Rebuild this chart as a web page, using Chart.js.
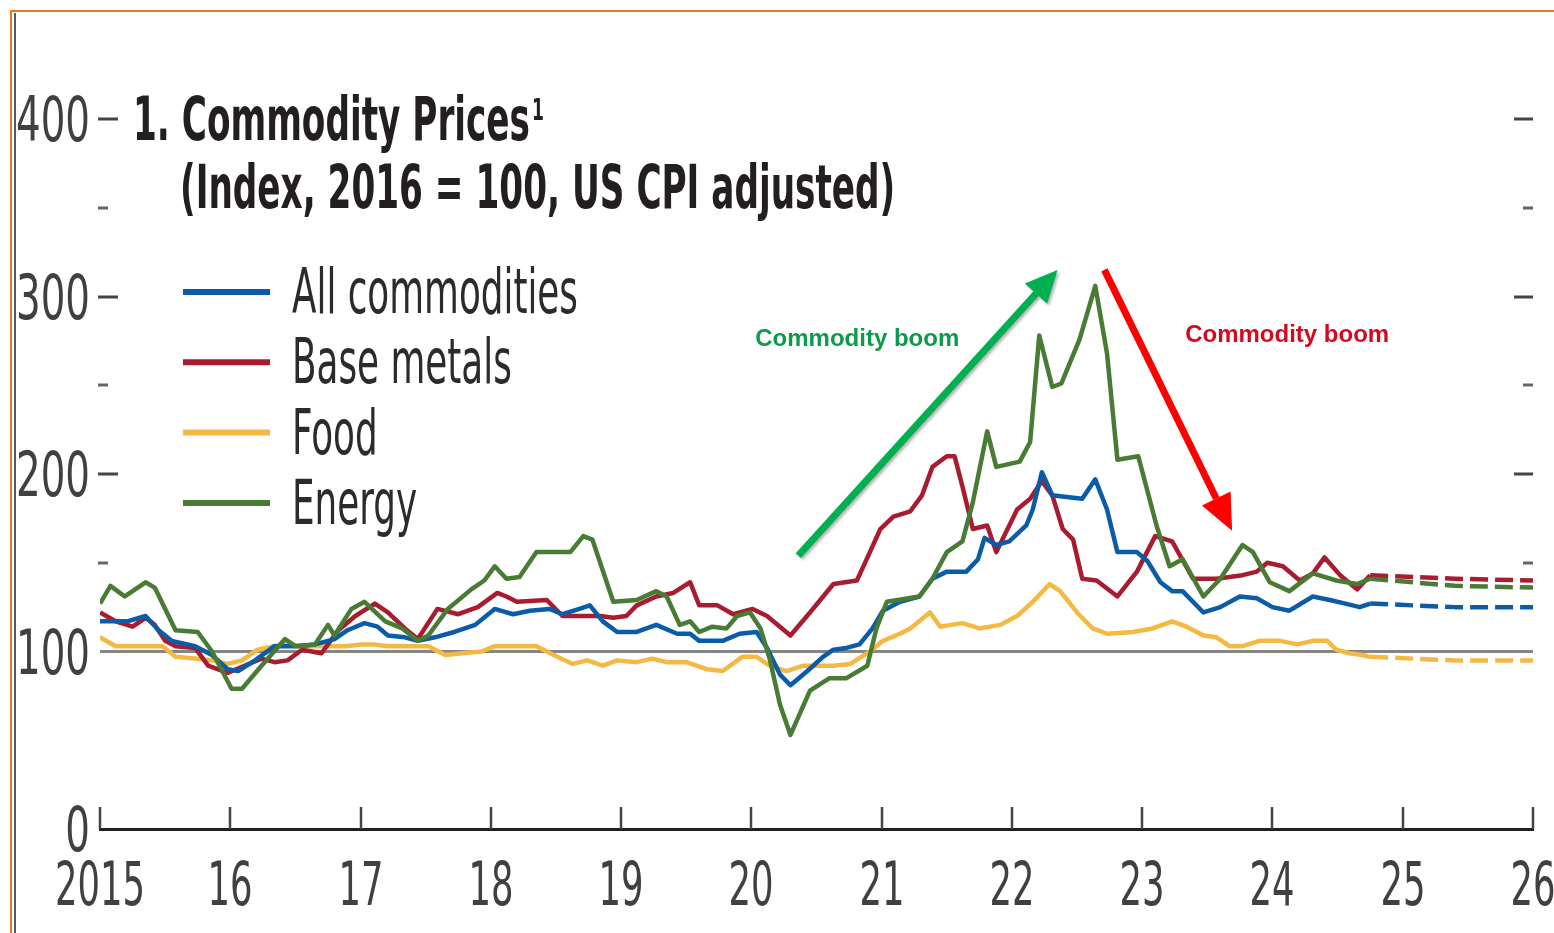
<!DOCTYPE html>
<html>
<head>
<meta charset="utf-8">
<title>Commodity Prices</title>
<script src="https://cdn.jsdelivr.net/npm/chart.js@4.4.1/dist/chart.umd.min.js"></script>
<style>
  html, body { margin: 0; padding: 0; background: #fff; }
  #wrap { width: 1554px; height: 933px; }
</style>
</head>
<body>
<div id="wrap"><canvas id="chart" width="1554" height="933"></canvas></div>
<script>
// Commodity prices, index 2016 = 100, US CPI adjusted
const yearTicks = [2015, 2016, 2017, 2018, 2019, 2020, 2021, 2022, 2023, 2024, 2025, 2026];
const yearLabels = ['2015', '16', '17', '18', '19', '20', '21', '22', '23', '24', '25', '26'];
const valueLabels = [0, 100, 200, 300, 400];
const seriesNames = ['All commodities', 'Base metals', 'Food', 'Energy'];
const seriesColors = ['#0a5ca8', '#a81c30', '#f4b942', '#487b34'];
const projectionStart = 2024.75; // dashed from here on

const allYears = [2015.00, 2015.12, 2015.21, 2015.35, 2015.45, 2015.55, 2015.73, 2015.86, 2015.98, 2016.06,
  2016.19, 2016.34, 2016.50, 2016.65, 2016.80, 2016.90, 2017.03, 2017.13, 2017.21, 2017.34,
  2017.44, 2017.57, 2017.72, 2017.88, 2018.03, 2018.17, 2018.30, 2018.45, 2018.55, 2018.68,
  2018.76, 2018.86, 2018.97, 2019.12, 2019.27, 2019.43, 2019.53, 2019.60, 2019.78, 2019.91,
  2020.04, 2020.12, 2020.22, 2020.30, 2020.43, 2020.55, 2020.63, 2020.73, 2020.83, 2020.93,
  2021.01, 2021.14, 2021.29, 2021.39, 2021.50, 2021.65, 2021.74, 2021.79, 2021.88, 2021.98,
  2022.11, 2022.16, 2022.23, 2022.31, 2022.42, 2022.54, 2022.64, 2022.73, 2022.81, 2022.96,
  2023.04, 2023.14, 2023.23, 2023.31, 2023.47, 2023.60, 2023.75, 2023.88, 2024.00, 2024.13,
  2024.31, 2024.44, 2024.56, 2024.67, 2024.75, 2025.40, 2026.00];
const allValues = [117, 117, 117, 120, 112, 106, 103, 98, 90, 89,
  95, 103, 103, 104, 107, 112, 116, 114, 109, 108,
  106, 108, 111, 115, 124, 121, 123, 124, 121, 124,
  126, 117, 111, 111, 115, 110, 110, 106, 106, 110,
  111, 102, 87, 81, 89, 97, 101, 102, 104, 113,
  123, 128, 131, 141, 145, 145, 152, 164, 160, 162,
  171, 180, 201, 188, 187, 186, 197, 180, 156, 156,
  151, 139, 134, 134, 122, 125, 131, 130, 125, 123,
  131, 129, 127, 125, 127, 125, 125];

const metalYears = [2015.00, 2015.12, 2015.25, 2015.35, 2015.42, 2015.50, 2015.58, 2015.73, 2015.83, 2015.98,
  2016.11, 2016.24, 2016.34, 2016.44, 2016.55, 2016.70, 2016.83, 2016.96, 2017.11, 2017.21,
  2017.34, 2017.44, 2017.59, 2017.75, 2017.90, 2018.05, 2018.12, 2018.20, 2018.43, 2018.55,
  2018.71, 2018.84, 2018.94, 2019.04, 2019.12, 2019.27, 2019.40, 2019.53, 2019.60, 2019.74,
  2019.86, 2020.01, 2020.12, 2020.30, 2020.45, 2020.63, 2020.81, 2020.91, 2020.99, 2021.09,
  2021.22, 2021.31, 2021.39, 2021.50, 2021.56, 2021.62, 2021.70, 2021.81, 2021.88, 2022.04,
  2022.14, 2022.23, 2022.31, 2022.39, 2022.47, 2022.54, 2022.65, 2022.81, 2022.96, 2023.10,
  2023.23, 2023.39, 2023.57, 2023.77, 2023.88, 2023.96, 2024.08, 2024.21, 2024.31, 2024.40,
  2024.52, 2024.65, 2024.75, 2025.40, 2026.00];
const metalValues = [122, 117, 114, 119, 115, 106, 103, 102, 92, 88,
  92, 96, 94, 95, 101, 99, 112, 120, 127, 122,
  113, 107, 124, 121, 125, 133, 131, 128, 129, 120,
  120, 120, 119, 120, 126, 131, 133, 139, 126, 126,
  121, 124, 120, 109, 122, 138, 140, 156, 169, 176,
  179, 188, 204, 210, 210, 193, 169, 171, 156, 180,
  186, 196, 188, 169, 163, 141, 140, 131, 145, 165,
  162, 141, 141, 143, 145, 150, 148, 140, 144, 153,
  143, 135, 143, 141, 140];

const foodYears = [2015.00, 2015.12, 2015.27, 2015.48, 2015.58, 2015.73, 2015.86, 2015.98, 2016.09, 2016.21,
  2016.40, 2016.55, 2016.70, 2016.88, 2017.01, 2017.11, 2017.21, 2017.52, 2017.65, 2017.78,
  2017.93, 2018.03, 2018.35, 2018.51, 2018.63, 2018.74, 2018.86, 2018.97, 2019.12, 2019.24,
  2019.35, 2019.50, 2019.66, 2019.78, 2019.93, 2020.04, 2020.14, 2020.27, 2020.40, 2020.63,
  2020.76, 2020.91, 2021.01, 2021.14, 2021.22, 2021.37, 2021.45, 2021.62, 2021.75, 2021.91,
  2022.04, 2022.16, 2022.29, 2022.37, 2022.50, 2022.62, 2022.73, 2022.93, 2023.08, 2023.23,
  2023.34, 2023.47, 2023.57, 2023.67, 2023.77, 2023.90, 2024.06, 2024.19, 2024.31, 2024.42,
  2024.49, 2024.59, 2024.69, 2024.75, 2025.40, 2026.00];
const foodValues = [108, 103, 103, 103, 97, 96, 95, 93, 95, 101,
  104, 103, 103, 103, 104, 104, 103, 103, 98, 99,
  100, 103, 103, 97, 93, 95, 92, 95, 94, 96,
  94, 94, 90, 89, 97, 97, 92, 89, 92, 92,
  93, 100, 106, 110, 113, 122, 114, 116, 113, 115,
  120, 128, 138, 134, 122, 113, 110, 111, 113, 117,
  114, 109, 108, 103, 103, 106, 106, 104, 106, 106,
  101, 99, 98, 97, 95, 95];

const energyYears = [2015.00, 2015.08, 2015.19, 2015.35, 2015.42, 2015.58, 2015.75, 2015.86, 2016.01, 2016.09,
  2016.24, 2016.42, 2016.50, 2016.65, 2016.75, 2016.80, 2016.93, 2017.03, 2017.19, 2017.32,
  2017.44, 2017.52, 2017.67, 2017.85, 2017.95, 2018.03, 2018.12, 2018.22, 2018.35, 2018.61,
  2018.71, 2018.78, 2018.94, 2019.12, 2019.27, 2019.35, 2019.45, 2019.53, 2019.60, 2019.70,
  2019.81, 2019.89, 2019.99, 2020.07, 2020.14, 2020.22, 2020.30, 2020.45, 2020.60, 2020.73,
  2020.89, 2020.96, 2021.04, 2021.29, 2021.39, 2021.50, 2021.62, 2021.70, 2021.81, 2021.88,
  2022.06, 2022.14, 2022.21, 2022.31, 2022.38, 2022.52, 2022.64, 2022.73, 2022.81, 2022.97,
  2023.11, 2023.21, 2023.31, 2023.47, 2023.60, 2023.77, 2023.85, 2023.98, 2024.13, 2024.31,
  2024.49, 2024.65, 2024.75, 2025.40, 2026.00];
const energyValues = [127, 137, 131, 139, 136, 112, 111, 100, 79, 79,
  92, 107, 103, 104, 115, 109, 124, 128, 117, 113,
  106, 109, 124, 135, 140, 148, 141, 142, 156, 156,
  165, 163, 128, 129, 134, 131, 115, 117, 111, 114,
  113, 120, 122, 113, 96, 70, 53, 78, 85, 85,
  92, 113, 128, 131, 141, 156, 162, 184, 224, 204,
  207, 218, 278, 249, 251, 276, 306, 268, 208, 210,
  171, 148, 152, 131, 141, 160, 156, 139, 134, 144,
  140, 138, 141, 137, 136];

// annotations, in data units: [x, y]
const upArrow = [[2020.36, 154], [2022.35, 315]];
const downArrow = [[2022.71, 315], [2023.69, 168]];
const noteUp = { text: 'Commodity boom', x: 2020.03, y: 276, color: '#0c9a4c' };
const noteDown = { text: 'Commodity boom', x: 2023.33, y: 278, color: '#d4091f' };

const NARROW = "'Liberation Sans Narrow', 'DejaVu Sans Condensed', 'Arial Narrow', sans-serif";
const ARIAL = "'Liberation Sans', Arial, sans-serif";

function toPoints(xs, ys) {
  return xs.map((x, i) => ({ x: x, y: ys[i] }));
}

const seriesData = [
  toPoints(allYears, allValues),
  toPoints(metalYears, metalValues),
  toPoints(foodYears, foodValues),
  toPoints(energyYears, energyValues)
];
const drawOrder = [1, 2, 3, 0]; // energy on top

const datasets = seriesNames.map((name, i) => ({
  label: name,
  data: seriesData[i],
  borderColor: seriesColors[i],
  borderWidth: 4.5,
  borderJoinStyle: 'round',
  pointRadius: 0,
  tension: 0,
  fill: false,
  order: drawOrder[i],
  segment: {
    borderDash: ctx => ctx.p0.parsed.x >= projectionStart - 0.001 ? [18, 7] : undefined
  }
}));

// the print font is very condensed, so text gets squeezed sideways
function squeezeText(ctx, text, x, y, sx) {
  ctx.save();
  ctx.translate(x, y);
  ctx.scale(sx, 1);
  ctx.fillText(text, 0, 0);
  ctx.restore();
}

function drawArrow(ctx, x0, y0, x1, y1, color, headLen, headHalf, width) {
  const ang = Math.atan2(y1 - y0, x1 - x0);
  const bx = x1 - Math.cos(ang) * headLen;
  const by = y1 - Math.sin(ang) * headLen;
  ctx.strokeStyle = color;
  ctx.fillStyle = color;
  ctx.lineWidth = width;
  ctx.lineCap = 'butt';
  ctx.beginPath();
  ctx.moveTo(x0, y0);
  ctx.lineTo(bx, by);
  ctx.stroke();
  ctx.beginPath();
  ctx.moveTo(x1, y1);
  ctx.lineTo(bx + Math.sin(ang) * headHalf, by - Math.cos(ang) * headHalf);
  ctx.lineTo(bx - Math.sin(ang) * headHalf, by + Math.cos(ang) * headHalf);
  ctx.closePath();
  ctx.fill();
}

const decor = {
  id: 'decor',
  beforeDraw(chart) {
    const ctx = chart.ctx;
    ctx.save();
    ctx.fillStyle = '#fff';
    ctx.fillRect(0, 0, chart.width, chart.height);
    ctx.restore();
  },
  afterDraw(chart) {
    const ctx = chart.ctx;
    const area = chart.chartArea;
    const xs = chart.scales.x;
    const ys = chart.scales.y;
    ctx.save();

    // frame
    ctx.strokeStyle = '#e8791f';
    ctx.lineWidth = 2;
    ctx.beginPath();
    ctx.moveTo(11, 933);
    ctx.lineTo(11, 11);
    ctx.lineTo(1554, 11);
    ctx.stroke();
    ctx.strokeStyle = '#5a5a5a';
    ctx.beginPath();
    ctx.moveTo(15, 13);
    ctx.lineTo(15, 933);
    ctx.stroke();

    // year ticks pointing up from the axis, labels below
    ctx.strokeStyle = '#444';
    ctx.lineWidth = 2.5;
    ctx.font = '60px ' + NARROW;
    ctx.fillStyle = '#404040';
    ctx.textBaseline = 'alphabetic';
    const xsx = 90 / ctx.measureText(yearLabels[0]).width;
    xs.ticks.forEach(t => {
      const x = Math.round(xs.getPixelForValue(t.value));
      ctx.beginPath();
      ctx.moveTo(x, area.bottom);
      ctx.lineTo(x, area.bottom - 22);
      ctx.stroke();
      const label = yearLabels[yearTicks.indexOf(t.value)];
      const w = ctx.measureText(label).width * xsx;
      squeezeText(ctx, label, x - w / 2, 905, xsx);
    });

    // value ticks on both sides, labels on the left
    ctx.lineWidth = 3;
    ctx.font = '62px ' + NARROW;
    const ysx = 74 / ctx.measureText('400').width;
    ys.ticks.forEach(t => {
      const y = Math.round(ys.getPixelForValue(t.value));
      if (valueLabels.includes(t.value)) {
        const label = String(t.value);
        const w = ctx.measureText(label).width * ysx;
        ctx.fillStyle = '#404040';
        squeezeText(ctx, label, 90 - w, y + 22, ysx);
      }
      if (t.value <= 100) return;
      const major = t.value % 100 === 0;
      ctx.strokeStyle = major ? '#444' : '#666';
      ctx.beginPath();
      ctx.moveTo(area.left - 2, y);
      ctx.lineTo(area.left + (major ? 18 : 8), y);
      ctx.moveTo(area.right - (major ? 19 : 10), y);
      ctx.lineTo(area.right, y);
      ctx.stroke();
    });

    // title
    ctx.fillStyle = '#231f20';
    ctx.font = 'bold 60px ' + NARROW;
    const t1 = '1. Commodity Prices';
    const sx = 397 / ctx.measureText(t1).width;
    squeezeText(ctx, t1, 133, 140, sx);
    squeezeText(ctx, '(Index, 2016 = 100, US CPI adjusted)', 180, 208, sx);
    ctx.font = 'bold 30px ' + NARROW;
    squeezeText(ctx, '1', 532, 120, sx);

    // legend
    ctx.font = '62px ' + NARROW;
    const lsx = 286 / ctx.measureText(seriesNames[0]).width;
    chart.data.datasets.forEach((ds, i) => {
      const y = 292 + i * 70.3;
      ctx.strokeStyle = ds.borderColor;
      ctx.lineWidth = 6;
      ctx.beginPath();
      ctx.moveTo(183, y);
      ctx.lineTo(270, y);
      ctx.stroke();
      ctx.fillStyle = '#2b2b2b';
      squeezeText(ctx, ds.label, 292, y + 21, lsx);
    });

    // boom / bust arrows
    ctx.save();
    ctx.shadowColor = 'rgba(0,0,0,0.3)';
    ctx.shadowBlur = 3;
    ctx.shadowOffsetX = 2;
    ctx.shadowOffsetY = 2;
    drawArrow(ctx, xs.getPixelForValue(upArrow[0][0]), ys.getPixelForValue(upArrow[0][1]),
      xs.getPixelForValue(upArrow[1][0]), ys.getPixelForValue(upArrow[1][1]), '#00b050', 32, 15, 7);
    ctx.restore();
    drawArrow(ctx, xs.getPixelForValue(downArrow[0][0]), ys.getPixelForValue(downArrow[0][1]),
      xs.getPixelForValue(downArrow[1][0]), ys.getPixelForValue(downArrow[1][1]), '#ff0000', 36, 16, 7);

    ctx.font = 'bold 24px ' + ARIAL;
    ctx.textBaseline = 'middle';
    [noteUp, noteDown].forEach(n => {
      ctx.fillStyle = n.color;
      ctx.fillText(n.text, xs.getPixelForValue(n.x), ys.getPixelForValue(n.y));
    });

    ctx.restore();
  }
};

new Chart(document.getElementById('chart'), {
  type: 'line',
  data: { datasets: datasets },
  options: {
    responsive: false,
    animation: false,
    devicePixelRatio: 1,
    layout: { padding: { top: 119, right: 21, bottom: 0, left: 0 } },
    plugins: {
      legend: { display: false },
      tooltip: { enabled: false }
    },
    scales: {
      x: {
        type: 'linear',
        min: yearTicks[0],
        max: yearTicks[yearTicks.length - 1],
        afterFit: scale => { scale.height = 104; },
        afterBuildTicks: scale => { scale.ticks = yearTicks.map(v => ({ value: v })); },
        ticks: { display: false },
        grid: { display: true, drawOnChartArea: false, drawTicks: false },
        border: { display: true, width: 3, color: '#231f20' }
      },
      y: {
        min: 0,
        max: 400,
        afterFit: scale => { scale.width = 100; },
        ticks: { display: false, stepSize: 50 },
        grid: {
          drawTicks: false,
          lineWidth: 3,
          color: ctx => ctx.tick && ctx.tick.value === 100 ? '#858585' : 'rgba(0,0,0,0)'
        },
        border: { display: false }
      }
    }
  },
  plugins: [decor]
});
</script>
</body>
</html>
